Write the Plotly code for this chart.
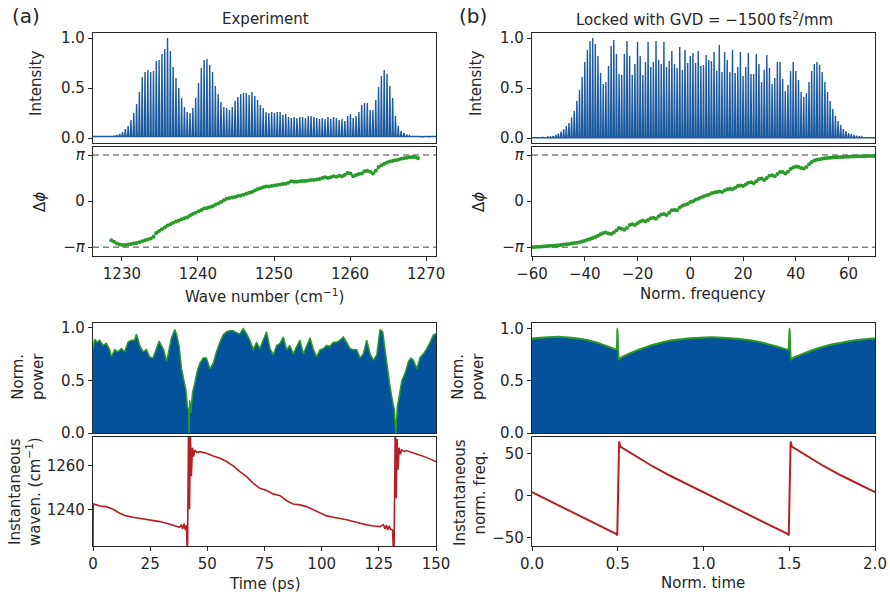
import numpy as np
import plotly.graph_objects as go

# ---------------- data ----------------
# (a) experimental comb spectrum: mode heights, modes k = -7 ... 116
exp_k_start = -7
exp_w0 = 1228.6          # wave number of mode k = 0 (cm^-1)
exp_dw = 0.37            # mode spacing (cm^-1)
exp_heights = [
    0.010, 0.011, 0.010, 0.012, 0.011, 0.012, 0.013,
    0.015, 0.02, 0.03, 0.04, 0.06, 0.09, 0.12, 0.18, 0.25, 0.34,
    0.46, 0.61, 0.66, 0.68, 0.66, 0.67, 0.77, 0.78, 0.84, 0.89,
    1.0, 0.87, 0.71, 0.60, 0.50, 0.40, 0.31, 0.26, 0.25, 0.30,
    0.40, 0.55, 0.70, 0.78, 0.79, 0.73, 0.66, 0.52, 0.44, 0.36,
    0.31, 0.30, 0.28, 0.31, 0.37, 0.41, 0.44, 0.45, 0.45, 0.43,
    0.46, 0.42, 0.38, 0.33, 0.30, 0.26, 0.25, 0.26, 0.25, 0.26,
    0.26, 0.23, 0.24, 0.21, 0.20, 0.21, 0.20, 0.21, 0.21, 0.20,
    0.22, 0.22, 0.21, 0.20, 0.19, 0.20, 0.19, 0.21, 0.19, 0.21,
    0.20, 0.18, 0.19, 0.17, 0.22, 0.24, 0.20, 0.22, 0.26, 0.33,
    0.35, 0.35, 0.28, 0.28, 0.38, 0.51, 0.62, 0.68, 0.64, 0.52,
    0.40, 0.22, 0.12, 0.07, 0.05, 0.035, 0.025, 0.02, 0.015, 0.013,
    0.012, 0.011, 0.012, 0.010, 0.011, 0.010, 0.010,
]
exp_trough = 0.015

# (a) spectral phase difference (units of pi), modes k = 0 ... 109
exp_phase_pi = [
    -0.85, -0.88, -0.92, -0.94, -0.95, -0.95, -0.94, -0.93, -0.92, -0.91,
    -0.89, -0.87, -0.85, -0.83, -0.81, -0.77, -0.69, -0.65, -0.61, -0.57,
    -0.53, -0.50, -0.47, -0.44, -0.42, -0.39, -0.37, -0.35, -0.31, -0.28,
    -0.25, -0.22, -0.19, -0.16, -0.15, -0.13, -0.11, -0.08, -0.05, -0.02,
    0.02, 0.05, 0.07, 0.08, 0.09, 0.11, 0.12, 0.14, 0.16, 0.18,
    0.20, 0.23, 0.26, 0.28, 0.30, 0.32, 0.32, 0.33, 0.34, 0.35,
    0.36, 0.37, 0.38, 0.40, 0.43, 0.42, 0.42, 0.43, 0.44, 0.44,
    0.45, 0.46, 0.46, 0.47, 0.48, 0.50, 0.52, 0.50, 0.52, 0.54,
    0.53, 0.55, 0.54, 0.57, 0.61, 0.60, 0.54, 0.57, 0.59, 0.60,
    0.65, 0.66, 0.64, 0.60, 0.66, 0.74, 0.78, 0.81, 0.84, 0.86,
    0.87, 0.89, 0.90, 0.92, 0.93, 0.94, 0.95, 0.96, 0.96, 0.93,
]

# (b) simulated comb: norm. frequency modes -60 ... 70
sim_f_start = -60
sim_heights = [
    0.005, 0.005, 0.006, 0.007, 0.008, 0.010, 0.012, 0.015, 0.020, 0.030,
    0.045, 0.065, 0.09, 0.12, 0.15, 0.205, 0.27, 0.37, 0.48, 0.61,
    0.76, 0.88, 0.97, 1.0, 0.94, 0.82, 0.65, 0.54, 0.56, 0.72,
    0.92, 0.98, 0.84, 0.64, 0.63, 0.84, 0.97, 0.82, 0.63, 0.74,
    0.96, 0.82, 0.63, 0.76, 0.96, 0.71, 0.76, 0.97, 0.78, 0.74,
    0.96, 0.71, 0.77, 0.87, 0.74, 0.70, 0.91, 0.68, 0.88, 0.75,
    0.82, 0.85, 0.75, 0.87, 0.72, 0.73, 0.83, 0.78, 0.77, 0.86,
    0.67, 0.93, 0.66, 0.86, 0.78, 0.66, 0.88, 0.65, 0.71, 0.86,
    0.62, 0.71, 0.85, 0.64, 0.64, 0.84, 0.74, 0.56, 0.68, 0.83,
    0.70, 0.54, 0.60, 0.76, 0.76, 0.59, 0.47, 0.53, 0.67, 0.76,
    0.67, 0.58, 0.46, 0.41, 0.45, 0.56, 0.67, 0.74, 0.76, 0.73,
    0.66, 0.56, 0.46, 0.37, 0.29, 0.22, 0.17, 0.13, 0.09, 0.07,
    0.05, 0.04, 0.03, 0.023, 0.017, 0.013, 0.010, 0.008, 0.007, 0.006, 0.005,
]
sim_trough = 0.003
sim_phase_pi = [
    -1.00, -0.995, -0.99, -0.99, -0.985, -0.98, -0.975, -0.97, -0.965, -0.96,
    -0.955, -0.95, -0.94, -0.935, -0.93, -0.92, -0.91, -0.90, -0.89, -0.875,
    -0.86, -0.84, -0.82, -0.80, -0.78, -0.75, -0.72, -0.69, -0.68, -0.70,
    -0.71, -0.68, -0.63, -0.58, -0.60, -0.62, -0.58, -0.52, -0.50, -0.52,
    -0.48, -0.44, -0.42, -0.44, -0.41, -0.37, -0.36, -0.38, -0.33, -0.29,
    -0.28, -0.30, -0.25, -0.20, -0.19, -0.20, -0.14, -0.10, -0.08, -0.06,
    -0.02, 0.00, 0.03, 0.05, 0.08, 0.10, 0.12, 0.14, 0.17, 0.19,
    0.20, 0.21, 0.20, 0.23, 0.26, 0.27, 0.26, 0.29, 0.33, 0.34,
    0.33, 0.36, 0.40, 0.41, 0.39, 0.43, 0.48, 0.49, 0.46, 0.50,
    0.55, 0.56, 0.54, 0.59, 0.63, 0.63, 0.60, 0.64, 0.70, 0.73,
    0.75, 0.74, 0.72, 0.71, 0.74, 0.80, 0.85, 0.88, 0.90, 0.91,
    0.92, 0.93, 0.935, 0.94, 0.945, 0.95, 0.953, 0.956, 0.96, 0.962,
    0.965, 0.967, 0.97, 0.972, 0.974, 0.976, 0.977, 0.978, 0.979, 0.98, 0.98,
]

# (a) time domain: normalized power
exp_t = [0, 0.7, 1.8, 2.9, 4.4, 5.8, 7.3, 8.0, 9.5, 10.9, 12.4, 13.9, 15.3, 16.8, 18.2, 19.0,
         20.4, 21.9, 23.4, 24.8, 26.3, 27.7, 28.9, 29.9, 30.9, 32.1, 32.8, 34.3, 35.8, 36.5,
         37.7, 38.7, 39.7, 40.6, 41.3, 41.8, 42.0, 42.3, 42.8, 43.5, 44.5, 45.5, 46.7, 48.2,
         49.6, 51.1, 52.6, 54.0, 55.5, 56.9, 58.4, 59.9, 61.3, 62.8, 64.2, 65.7, 67.2, 68.6,
         70.1, 71.5, 73.0, 74.5, 75.9, 77.4, 78.8, 80.3, 81.8, 83.2, 84.7, 86.1, 87.6, 89.1,
         90.5, 92.0, 93.4, 94.9, 96.4, 97.8, 99.3, 100.7, 102.2, 103.6, 105.1, 106.6, 108.0,
         109.5, 110.9, 112.4, 113.9, 115.3, 116.8, 118.2, 119.7, 121.2, 122.6, 124.1, 125.5,
         126.7, 127.7, 128.8, 129.9, 130.9, 131.8, 132.4, 133.1, 134.0, 135.0, 136.5, 138.0,
         139.0, 140.1, 141.6, 143.1, 144.5, 146.0, 147.4, 148.9, 150]
exp_power = [0.79, 0.89, 0.86, 0.88, 0.83, 0.85, 0.79, 0.72, 0.79, 0.77, 0.80, 0.77, 0.86, 0.88,
             0.88, 0.94, 0.83, 0.77, 0.79, 0.72, 0.71, 0.80, 0.87, 0.83, 0.79, 0.68, 0.74, 0.90,
             0.98, 0.94, 0.82, 0.61, 0.50, 0.41, 0.25, 0.22, 0.0, 0.31, 0.19, 0.38, 0.47, 0.58,
             0.66, 0.71, 0.71, 0.61, 0.66, 0.77, 0.86, 0.93, 0.96, 0.97, 0.97, 0.95, 0.94, 0.99,
             0.94, 0.88, 0.79, 0.86, 0.80, 0.88, 0.96, 0.80, 0.74, 0.83, 0.85, 0.91, 0.79, 0.83,
             0.75, 0.82, 0.88, 0.75, 0.82, 0.90, 0.79, 0.72, 0.79, 0.80, 0.83, 0.82, 0.86, 0.86,
             0.88, 0.91, 0.86, 0.80, 0.79, 0.79, 0.71, 0.75, 0.88, 0.75, 0.69, 0.74, 0.98, 0.96,
             0.79, 0.60, 0.44, 0.31, 0.22, 0.0, 0.25, 0.36, 0.49, 0.57, 0.68, 0.71, 0.69, 0.61,
             0.72, 0.75, 0.80, 0.86, 0.93, 0.94]

# (a) instantaneous wave number
exp_wt = [0, 0.1, 1.5, 2.9, 5.8, 8.8, 11.7, 14.6, 17.5, 20.4, 23.4, 26.3, 29.2, 32.1, 35.0,
          37.9, 38.6, 39.2, 39.8, 40.4, 40.9, 41.3, 41.8, 42.2, 42.6, 43.0, 43.5, 44.0, 44.5,
          45.5, 46.7, 49.6, 52.6, 55.5, 58.4, 61.3, 64.2, 67.2, 70.1, 73.0, 75.9, 78.8, 81.8,
          84.7, 87.6, 90.5, 93.4, 96.4, 99.3, 102.2, 105.1, 108.0, 110.9, 113.9, 116.8, 119.7,
          122.6, 125.5, 127.0, 127.7, 128.3, 128.9, 129.5, 130.1, 131.0, 131.6, 132.2, 132.6,
          133.0, 133.4, 133.9, 134.4, 135.0, 136.2, 137.0, 139.9, 142.8, 145.7, 148.6, 150]
exp_wn = [1215, 1242.4, 1242.0, 1241.5, 1241.2, 1240.0, 1238.2, 1237.0, 1236.4, 1235.9, 1235.5,
          1234.8, 1234.4, 1233.6, 1232.6, 1231.8, 1233.0, 1231.0, 1233.4, 1230.5, 1232.8, 1215,
          1280, 1240, 1275, 1255, 1268, 1264, 1267, 1265.8, 1266.2, 1265.5, 1264.2, 1263.2,
          1261.7, 1259.7, 1257.1, 1254.8, 1251.8, 1249.5, 1248.5, 1247.0, 1246.2, 1243.9,
          1242.4, 1242.0, 1241.2, 1239.7, 1238.2, 1237.0, 1236.4, 1235.9, 1235.2, 1234.4,
          1233.6, 1232.9, 1232.4, 1232.1, 1233.0, 1231.0, 1232.8, 1230.6, 1232.5, 1231.0,
          1230.5, 1215, 1280, 1245, 1272, 1258, 1268, 1265, 1267, 1266.2, 1266.7, 1265.8,
          1264.7, 1263.6, 1262.4, 1261.7]

# (b) simulated time domain
sim_pt = [0, 0.07, 0.17, 0.27, 0.366, 0.44, 0.492, 0.498, 0.506, 0.517, 0.58, 0.66, 0.755,
          0.85, 0.95, 1.05, 1.14, 1.24, 1.34, 1.436, 1.494, 1.502, 1.510, 1.523, 1.63, 1.73,
          1.825, 1.92, 2.0]
sim_power = [0.904, 0.914, 0.92, 0.904, 0.872, 0.83, 0.80, 1.0, 0.70, 0.72, 0.77, 0.82, 0.866,
             0.895, 0.91, 0.917, 0.91, 0.895, 0.866, 0.824, 0.80, 1.0, 0.70, 0.72, 0.79, 0.84,
             0.872, 0.895, 0.904]
sim_ft = [0.0, 0.1, 0.2, 0.3, 0.4, 0.49, 0.497, 0.508, 0.515, 0.6, 0.7, 0.8, 0.9, 1.0, 1.1, 1.2,
          1.3, 1.4, 1.49, 1.497, 1.508, 1.515, 1.6, 1.7, 1.8, 1.9, 2.0]
sim_freq = [4, -6, -16.5, -26.5, -36.5, -45.5, -47, 64, 58, 47, 35, 24, 14, 4, -6, -16.5,
            -26.5, -36.5, -45.5, -47, 64, 58, 47, 35, 24, 14, 4]

# ---------------- styling ----------------
FONT = "DejaVu Sans"
TXT = "#262626"
BLUE = "#1c5a9f"
FILL = "#04519c"
GREEN = "#2a9a2a"
RED = "#b52025"
W, H = 890, 595


def comb_trace(positions, heights, trough, half_width):
    xs, ys = [], []
    for p, h in zip(positions, heights):
        xs += [p - half_width, p, p + half_width]
        ys += [trough, h, trough]
    return xs, ys


exp_k = np.arange(exp_k_start, exp_k_start + len(exp_heights))
exp_w = exp_w0 + exp_dw * exp_k
cx_a, cy_a = comb_trace(exp_w, exp_heights, exp_trough, 0.08)

sim_f = np.arange(sim_f_start, sim_f_start + len(sim_heights))
cx_b, cy_b = comb_trace(sim_f, sim_heights, sim_trough, 0.22)

exp_phase_w = exp_w0 + exp_dw * np.arange(len(exp_phase_pi))
sim_phase_f = np.arange(sim_f_start, sim_f_start + len(sim_phase_pi))

fig = go.Figure()
fig.add_trace(go.Scatter(x=cx_a, y=cy_a, mode="lines", line=dict(color=BLUE, width=1.4),
                         xaxis="x", yaxis="y", showlegend=False))
fig.add_trace(go.Scatter(x=exp_phase_w, y=np.array(exp_phase_pi) * np.pi, mode="lines+markers",
                         line=dict(color=GREEN, width=1.5), marker=dict(color=GREEN, size=4),
                         xaxis="x2", yaxis="y2", showlegend=False))
n = min(len(exp_t), len(exp_power))
fig.add_trace(go.Scatter(x=exp_t[:n], y=exp_power[:n], mode="lines", fill="tozeroy",
                         fillcolor=FILL, line=dict(color=GREEN, width=1.5),
                         xaxis="x3", yaxis="y3", showlegend=False))
n = min(len(exp_wt), len(exp_wn))
fig.add_trace(go.Scatter(x=exp_wt[:n], y=exp_wn[:n], mode="lines", line=dict(color=RED, width=1.6),
                         xaxis="x4", yaxis="y4", showlegend=False))
fig.add_trace(go.Scatter(x=cx_b, y=cy_b, mode="lines", line=dict(color=BLUE, width=1.4),
                         xaxis="x5", yaxis="y5", showlegend=False))
fig.add_trace(go.Scatter(x=sim_phase_f, y=np.array(sim_phase_pi) * np.pi, mode="markers",
                         marker=dict(color=GREEN, size=4),
                         xaxis="x6", yaxis="y6", showlegend=False))
n = min(len(sim_pt), len(sim_power))
fig.add_trace(go.Scatter(x=sim_pt[:n], y=sim_power[:n], mode="lines", fill="tozeroy",
                         fillcolor=FILL, line=dict(color=GREEN, width=2, shape="spline", smoothing=0.3),
                         xaxis="x7", yaxis="y7", showlegend=False))
n = min(len(sim_ft), len(sim_freq))
fig.add_trace(go.Scatter(x=sim_ft[:n], y=sim_freq[:n], mode="lines", line=dict(color=RED, width=2),
                         xaxis="x8", yaxis="y8", showlegend=False))

XL = [93 / W, 436 / W]
XR = [532 / W, 875 / W]


def ydom(top, bot):
    return [1 - bot / H, 1 - top / H]


R1, R2, R3, R4 = ydom(33, 143), ydom(147, 256), ydom(323.3, 433), ydom(436.7, 546)

common = dict(showline=True, mirror=True, linecolor=TXT, linewidth=1.2, showgrid=False,
              zeroline=False, ticks="outside", ticklen=4, tickwidth=1, tickcolor=TXT,
              automargin=False,
              tickfont=dict(family=FONT, size=15, color=TXT))
PI = np.pi
lay = dict(
    width=W, height=H, margin=dict(l=0, r=0, t=0, b=0, autoexpand=False),
    plot_bgcolor="white", paper_bgcolor="white",
    font=dict(family=FONT, size=15, color=TXT),
    xaxis=dict(common, domain=XL, anchor="y", range=[1226.2, 1271.3], showticklabels=False, ticks=""),
    yaxis=dict(common, domain=R1, anchor="x", range=[-0.05, 1.05], tickvals=[0, 0.5, 1],
               ticktext=["0.0", "0.5", "1.0"]),
    xaxis2=dict(common, domain=XL, anchor="y2", range=[1226.2, 1271.3],
                tickvals=[1230, 1240, 1250, 1260, 1270]),
    yaxis2=dict(common, domain=R2, anchor="x2", range=[-1.19 * PI, 1.175 * PI],
                tickvals=[-PI, 0, PI], ticktext=["\u2212<i>\u03c0</i>", "0", "<i>\u03c0</i>"]),
    xaxis3=dict(common, domain=XL, anchor="y3", range=[0, 150], showticklabels=False, ticks=""),
    yaxis3=dict(common, domain=R3, anchor="x3", range=[0, 1.04], tickvals=[0, 0.5, 1],
                ticktext=["0.0", "0.5", "1.0"]),
    xaxis4=dict(common, domain=XL, anchor="y4", range=[0, 150],
                tickvals=[0, 25, 50, 75, 100, 125, 150]),
    yaxis4=dict(common, domain=R4, anchor="x4", range=[1223.3, 1273], tickvals=[1240, 1260]),
    xaxis5=dict(common, domain=XR, anchor="y5", range=[-60, 70], showticklabels=False, ticks=""),
    yaxis5=dict(common, domain=R1, anchor="x5", range=[-0.05, 1.05], tickvals=[0, 0.5, 1],
                ticktext=["0.0", "0.5", "1.0"]),
    xaxis6=dict(common, domain=XR, anchor="y6", range=[-60, 70],
                tickvals=[-60, -40, -20, 0, 20, 40, 60],
                ticktext=["\u221260", "\u221240", "\u221220", "0", "20", "40", "60"]),
    yaxis6=dict(common, domain=R2, anchor="x6", range=[-1.19 * PI, 1.175 * PI],
                tickvals=[-PI, 0, PI], ticktext=["\u2212<i>\u03c0</i>", "0", "<i>\u03c0</i>"]),
    xaxis7=dict(common, domain=XR, anchor="y7", range=[0, 2], showticklabels=False, ticks=""),
    yaxis7=dict(common, domain=R3, anchor="x7", range=[0, 1.05], tickvals=[0, 0.5, 1],
                ticktext=["0.0", "0.5", "1.0"]),
    xaxis8=dict(common, domain=XR, anchor="y8", range=[0, 2], tickvals=[0, 0.5, 1, 1.5, 2],
                ticktext=["0.0", "0.5", "1.0", "1.5", "2.0"]),
    yaxis8=dict(common, domain=R4, anchor="x8", range=[-59.8, 69.7], tickvals=[-50, 0, 50],
                ticktext=["\u221250", "0", "50"]),
)
fig.update_layout(**lay)

shapes = []
for xr, yr in (("x2 domain", "y2"), ("x6 domain", "y6")):
    for v in (-PI, PI):
        shapes.append(dict(type="line", xref=xr, yref=yr, x0=0, x1=1, y0=v, y1=v, layer="below",
                           line=dict(color="#808080", width=1.6, dash="6px,4px")))
fig.update_layout(shapes=shapes)


def ann(text, px, py, size=15, angle=0, xanchor="center"):
    return dict(text=text, x=px / W, y=1 - py / H, xref="paper", yref="paper", showarrow=False,
                xanchor=xanchor, yanchor="middle", textangle=angle,
                font=dict(family=FONT, size=size, color=TXT))


annotations = [
    ann("(a)", 10, 16, size=20, xanchor="left"),
    ann("(b)", 457, 16, size=20, xanchor="left"),
    ann("Experiment", 265, 19),
    ann("Locked with GVD = \u22121500\u2009fs<sup>2</sup>/mm", 704, 19),
    ann("Intensity", 36, 84, angle=-90),
    ann("\u0394<i>\u03d5</i>", 40, 202, angle=-90),
    ann("Wave number (cm<sup>\u22121</sup>)", 264, 296),
    ann("Norm.<br>power", 28, 377, angle=-90),
    ann("Instantaneous<br>waven. (cm<sup>\u22121</sup>)", 25, 492, angle=-90),
    ann("Time (ps)", 265, 584),
    ann("Intensity", 476, 84, angle=-90),
    ann("\u0394<i>\u03d5</i>", 479, 202, angle=-90),
    ann("Norm. frequency", 703, 294),
    ann("Norm.<br>power", 468, 377, angle=-90),
    ann("Instantaneous<br>norm. freq.", 470, 492, angle=-90),
    ann("Norm. time", 703, 583),
]
fig.update_layout(annotations=annotations)

fig.write_html("out.html")
